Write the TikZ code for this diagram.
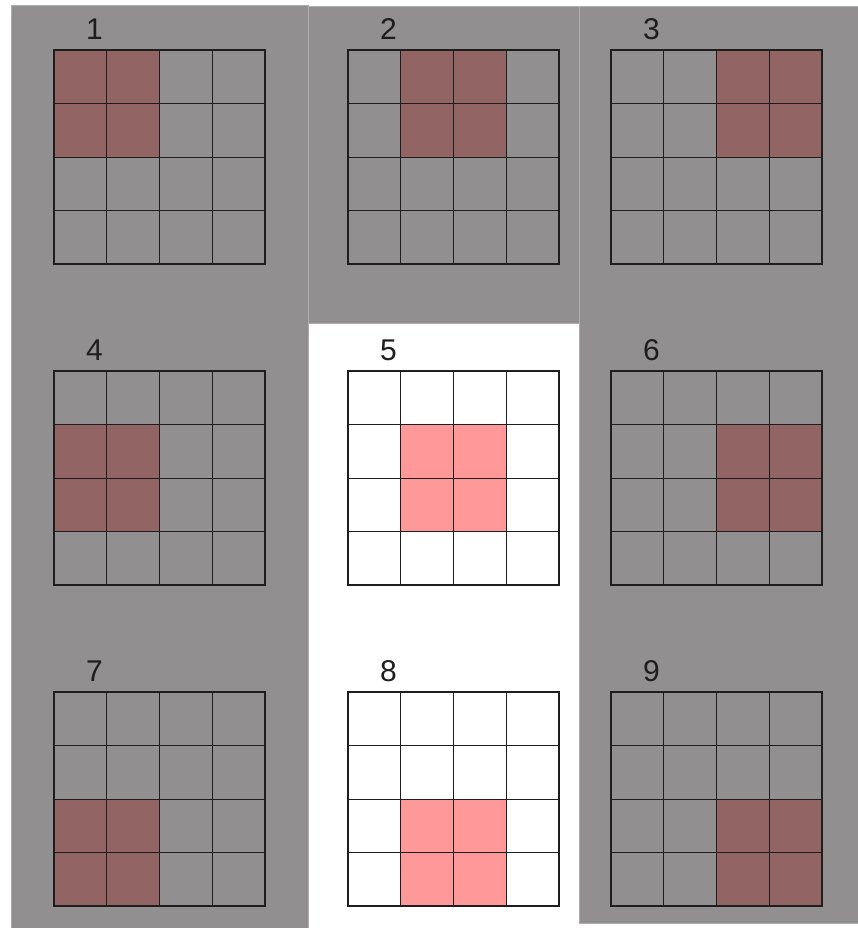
\documentclass[tikz,border=0pt]{standalone}
\usepackage{fontspec}
\setmainfont{Liberation Sans}
\definecolor{panelgray}{RGB}{145,143,144}
\definecolor{paneledge}{RGB}{175,173,174}
\definecolor{darkcell}{RGB}{147,100,100}
\definecolor{pinkcell}{RGB}{255,153,153}
\definecolor{ink}{RGB}{30,30,30}
\begin{document}
\begin{tikzpicture}[x=1pt,y=-1pt,
  numlabel/.style={font=\fontsize{30}{30}\selectfont, text=ink, inner sep=0pt, anchor=center},
  gridbox/.style={draw=ink, line width=1.2pt, minimum width=211pt, minimum height=214pt, inner sep=0pt, fill=none},
  gridline/.style={draw=ink, line width=0.9pt},
  panel/.style={fill=panelgray, draw=paneledge, line width=0.6pt}]
\useasboundingbox (0,0) rectangle (857,928);
\fill[white] (0,0) rectangle (857,928);
\path[panel] (11,5) rectangle (308,929);
\path[panel] (308,6) rectangle (579,323);
\path[panel] (579,6) rectangle (858,923);
\foreach \n/\gx/\gy/\hc/\hr/\fc in {
  1/54/50/0/0/darkcell, 2/348/50/1/0/darkcell, 3/611/50/2/0/darkcell,
  4/54/371/0/1/darkcell, 5/348/371/1/1/pinkcell, 6/611/371/2/1/darkcell,
  7/54/692/0/2/darkcell, 8/348/692/1/2/pinkcell, 9/611/692/2/2/darkcell}{
  \fill[\fc] ({\gx+\hc*52.75},{\gy+\hr*53.5}) rectangle ++(105.5,107);
  \foreach \i in {1,2,3}{
    \draw[gridline] ({\gx+\i*52.75},\gy) -- ++(0,214);
    \draw[gridline] (\gx,{\gy+\i*53.5}) -- ++(211,0);
  }
  \node[gridbox] (g\n) at ({\gx+105.5},{\gy+107}) {};
  \node[numlabel] (lab\n) at ({\gx+40.5},{\gy-21}) {\n};
}
\end{tikzpicture}
\end{document}
